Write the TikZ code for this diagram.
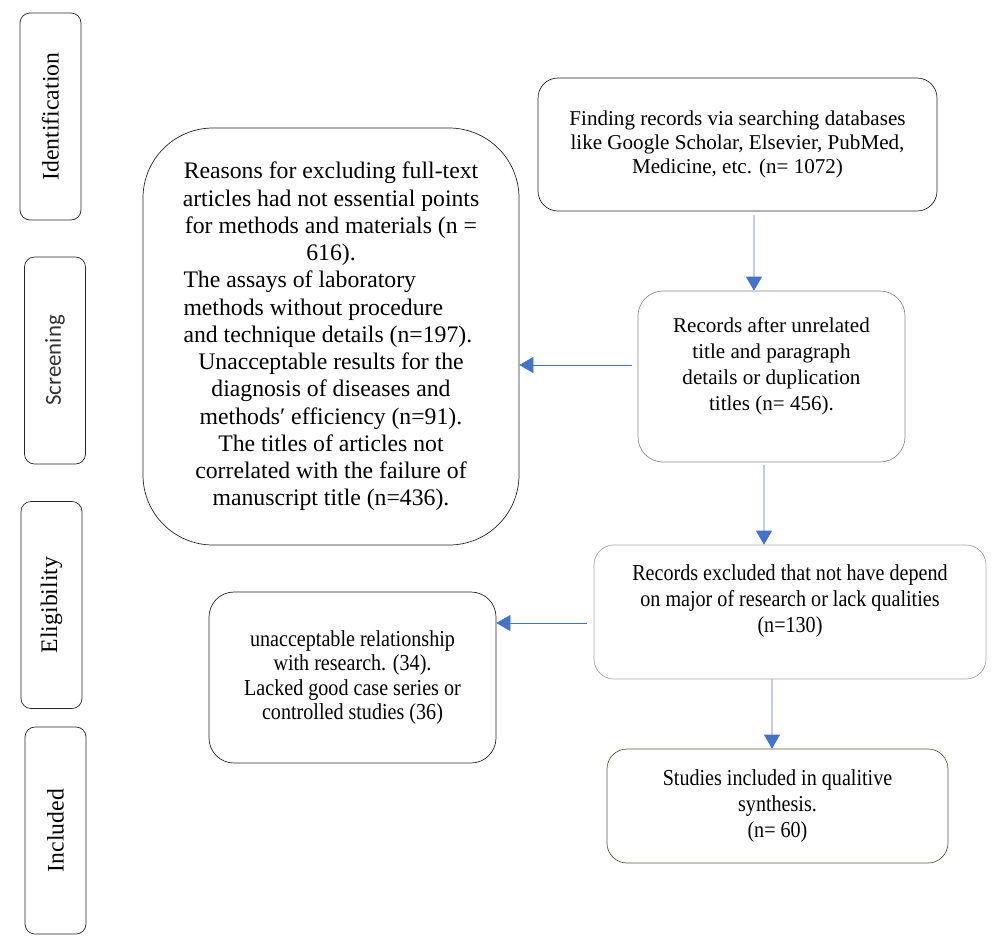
\documentclass[tikz,border=0pt]{standalone}
\usepackage{fontspec}
\setmainfont{Liberation Serif}
\newfontfamily\narrowfont[FakeStretch=0.88]{Liberation Serif}
\newfontfamily\calibrifont{Carlito}
\usetikzlibrary{arrows.meta}
\definecolor{arrowblue}{HTML}{4472C4}
\definecolor{olivegray}{HTML}{5A5A46}

\tikzset{
  stage/.style={draw=black!85,rounded corners=0.2cm,minimum width=1.22cm,minimum height=4.14cm,inner sep=0pt},
  stagetext/.style={rotate=90,font=\fontsize{13.5}{15}\selectfont},
  box/.style={draw=black!85,thin,inner sep=0pt},
  arr/.style={arrowblue,-{Triangle[length=0.28cm,width=0.32cm]}}
}

\begin{document}
\begin{tikzpicture}
\useasboundingbox (0,0) rectangle (20,-18.84);

% stages on the left
\node[stage] (ident) at (1.01,-2.33) {};
\node[stagetext] at (ident) {Identification};
\node[stage] (screen) at (1.10,-7.21) {};
\node[stagetext,font=\calibrifont\fontsize{13}{15}\selectfont,text=black!80] at (screen) {Screening};
\node[stage] (elig) at (1.03,-12.10) {};
\node[stagetext] at (elig) {Eligibility};
\node[stage] (incl) at (1.11,-16.61) {};
\node[stagetext] at (incl) {Included};

% boxes
\node[box,rounded corners=0.4cm,minimum width=7.98cm,minimum height=2.66cm,align=center,
  font=\fontsize{12}{13.7}\selectfont] (find) at (14.75,-2.89)
  {Finding records via searching databases\\like Google Scholar, Elsevier, PubMed,\\Medicine, etc. (n= 1072)};

\node[box,rounded corners=1.4cm,minimum width=7.52cm,minimum height=8.34cm,align=center,
  font=\fontsize{13.5}{15.5}\selectfont] (reasons) at (6.62,-6.73)
  {Reasons for excluding full-text\\articles had not essential points\\for methods and materials (n =\\616).\\
   \makebox[5.9cm][l]{The assays of laboratory}\\
   \makebox[5.9cm][l]{methods without procedure}\\
   \makebox[5.9cm][l]{and technique details (n=197).}\\
   Unacceptable results for the\\diagnosis of diseases and\\methods′ efficiency (n=91).\\
   The titles of articles not\\correlated with the failure of\\manuscript title (n=436).};

\node[box,draw=black!45,rounded corners=0.5cm,minimum width=5.34cm,minimum height=3.42cm] (rec) at (15.43,-7.53) {};
\node[align=center,font=\fontsize{12}{14.8}\selectfont] at ([yshift=0.2cm]rec.center)
  {Records after unrelated\\title and paragraph\\details or duplication\\titles (n= 456).};

\node[box,draw=black!35,rounded corners=0.4cm,minimum width=7.84cm,minimum height=2.68cm] (excl) at (15.80,-12.24) {};
\node[align=center,font=\narrowfont\fontsize{13}{14.8}\selectfont] at ([yshift=0.22cm]excl.center)
  {Records excluded that not have depend\\on major of research or lack qualities\\(n=130)};

\node[box,rounded corners=0.5cm,minimum width=5.74cm,minimum height=3.42cm,align=center,
  font=\narrowfont\fontsize{13}{13.9}\selectfont] (unacc) at (7.05,-13.55)
  {unacceptable relationship\\with research. (34).\\Lacked good case series or\\controlled studies (36)};

\node[box,draw=olivegray,rounded corners=0.4cm,minimum width=6.82cm,minimum height=2.28cm,align=center,
  font=\narrowfont\fontsize{13}{15}\selectfont] (stud) at (15.55,-16.12)
  {Studies included in qualitive\\synthesis.\\(n= 60)};

% arrows
\draw[arr] ([shift={(0.33,-0.08)}]find.south) -- ([xshift=-0.35cm]rec.north);
\draw[arr] ([shift={(-0.12,0.23)}]rec.west) -- ([yshift=-0.57cm]reasons.east);
\draw[arr] ([shift={(-0.15,-0.05)}]rec.south) -- ([xshift=-0.52cm]excl.north);
\draw[arr] ([shift={(-0.14,-0.22)}]excl.west) -- ([yshift=1.09cm]unacc.east);
\draw[arr] ([xshift=-0.36cm]excl.south) -- ([xshift=-0.11cm]stud.north);

\end{tikzpicture}
\end{document}
